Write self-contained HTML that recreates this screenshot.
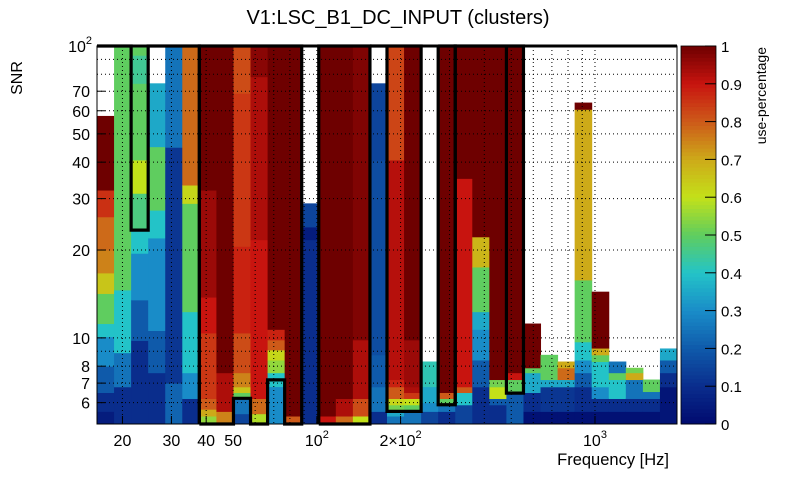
<!DOCTYPE html>
<html><head><meta charset="utf-8"><style>
body{margin:0;background:#fff;font-family:"Liberation Sans",sans-serif}
svg text{font-family:"Liberation Sans",sans-serif}
</style></head><body>
<svg id="chart" width="805" height="472" viewBox="0 0 805 472" xmlns="http://www.w3.org/2000/svg">
<text x="398" y="24" font-size="20" text-anchor="middle">V1:LSC_B1_DC_INPUT (clusters)</text>
<text transform="translate(22,78) rotate(-90)" font-size="16" text-anchor="middle">SNR</text>
<text x="669" y="465" font-size="16.5" text-anchor="end">Frequency [Hz]</text>
<text transform="translate(766,47) rotate(-90)" font-size="14" text-anchor="end">use-percentage</text>
<g id="cells"></g>
<g id="grid"></g>
<g id="outlines"></g>
<g id="axes"></g>
<g id="cbar"></g>
</svg>
<script>
// Each column: segments from bottom up, [upper SNR, use-percentage]; above last = empty
const c0=[[5.6,0.05],[6.5,0.1],[8,0.2],[10.1,0.3],[11.2,0.4],[14.2,0.5],[16.7,0.65],[20,0.75],[26,0.78],[32.1,0.86],[57.6,1]];
const c1=[[6.8,0.1],[8.9,0.25],[14.6,0.4],[100,0.5]];
const c2=[[9.8,0.1],[13.5,0.2],[19.5,0.3],[23.4,0.4],[31.3,0.47],[40.7,0.6],[74.5,0.5],[93,0.45],[100,0.5]];
const c3=[[7.6,0.1],[10.6,0.2],[22,0.3],[27.4,0.4],[45.2,0.5],[74.5,0.35]];
const c4=[[7,0.22],[45,0.12],[100,0.25]];
const c5=[[6.2,0.1],[7.6,0.3],[12.3,0.4],[28.9,0.5],[33.4,0.62],[100,0.78]];
const c6=[[5.4,0.55],[5.7,0.7],[6.2,0.8],[10.4,0.85],[13.8,0.9],[32.1,0.95],[100,1]];
const c7=[[5.6,0.75],[7.6,0.93],[100,1]];
const c8=[[5.5,0.15],[6.2,0.25],[6.5,0.5],[6.8,0.65],[7.6,0.75],[10.4,0.82],[20.6,0.88],[68.9,0.85],[100,0.82]];
const c9=[[5.5,0.58],[6.2,0.78],[21.7,0.9],[78.5,0.93],[100,0.97]];
const c10=[[6.81,0.3],[7.6,0.4],[8.4,0.55],[9.1,0.62],[9.85,0.8],[10.7,0.88],[100,1]];
const c11=[[5.4,0.8],[100,1]];
const c12=[[21.7,0.1],[24,0.05],[28.9,0.15]];
const c13=[[5.4,0.9],[100,1]];
const c14=[[5.4,0.78],[6.2,0.93],[100,1]];
const c15=[[5.4,0.6],[6.2,0.82],[9.85,0.93],[100,0.98]];
const c16=[[5.6,0.1],[6.8,0.25],[8.75,0.2],[40.7,0.17],[74.5,0.15]];
const c17=[[5.4,0.25],[5.6,0.35],[5.9,0.52],[6.2,0.62],[6.8,0.8],[7.2,0.88],[40.7,0.92],[100,0.83]];
const c18=[[5.6,0.25],[5.9,0.5],[6.2,0.6],[6.5,0.85],[6.8,0.93],[9.85,0.95],[100,1]];
const c19=[[5.6,0.15],[6,0.3],[6.81,0.35],[8.3,0.42]];
const c20=[[5.6,0.1],[5.9,0.25],[6.2,0.5],[6.5,0.8],[100,1]];
const c21=[[5.9,0.15],[6.5,0.4],[6.8,0.8],[35.2,0.9],[100,1]];
const c22=[[6.8,0.1],[8.4,0.2],[10.7,0.3],[12.3,0.35],[17.5,0.5],[22.2,0.68],[100,1]];
const c23=[[5.9,0.1],[6.2,0.2],[6.8,0.6],[7.2,0.52],[100,1]];
const c24=[[6.5,0.2],[7.2,0.5],[7.6,0.9],[100,1]];
const c25=[[5.6,0.02],[6.5,0.1],[7.6,0.35],[7.9,0.5],[11.2,1]];
const c26=[[5.6,0.02],[6.8,0.12],[7.2,0.35],[7.9,0.5],[8.75,0.5]];
const c27=[[5.6,0.02],[6.8,0.12],[7.2,0.35],[7.9,0.78],[8.3,0.7]];
const c28=[[5.6,0.02],[6.8,0.1],[7.6,0.2],[8.4,0.3],[9.7,0.4],[15.8,0.5],[60.7,0.7],[64,1]];
const c29=[[5.6,0.02],[6.2,0.1],[6.8,0.3],[8.3,0.4],[8.75,0.5],[9.23,0.7],[14.4,1]];
const c30=[[5.6,0.02],[6.2,0.1],[7.2,0.4],[7.6,0.5],[8.3,0.25]];
const c31=[[5.6,0.02],[6.2,0.1],[7.2,0.25],[7.6,0.7],[7.9,0.52]];
const c32=[[5.6,0.02],[6.2,0.1],[6.55,0.25],[7.2,0.5]];
const c33=[[6.8,0.03],[7.6,0.1],[8.4,0.2],[9.2,0.35]];
const columns=[c0,c1,c2,c3,c4,c5,c6,c7,c8,c9,c10,c11,c12,c13,c14,c15,c16,c17,c18,c19,c20,c21,c22,c23,c24,c25,c26,c27,c28,c29,c30,c31,c32,c33];
// cluster outlines: [column-edge index, SNR] vertices
const outlineA=[[0,100],[2,100],[2,23.4],[3,23.4],[3,100],[6,100],[6,5.07]];
const outlineB=[[6,5.07],[6,100],[12,100],[12,5.07],[11,5.07],[11,7.18],[10,7.18],[10,5.07],[9,5.07],[9,6.21],[8,6.21],[8,5.07],[6,5.07]];
const outlineC=[[13,5.07],[13,100],[16,100],[16,5.07],[13,5.07]];
const outlineD=[[16,100],[17,100],[17,5.6],[19,5.6],[19,100],[17,100]];
const outlineE=[[20,100],[20,5.9],[21,5.9],[21,100],[20,100]];
const outlineF=[[21,5.9],[21,100],[24,100],[24,6.47],[25,6.47],[25,100],[24,100]];
const outlines=[outlineA,outlineB,outlineC,outlineD,outlineE,outlineF];
const yTickVals=[100,70,60,50,40,30,20,10,8,7,6];
const yTickLabels=["10^2","70","60","50","40","30","20","10","8","7","6"];
const xTickVals=[20,30,40,50,100,200,1000];
const xTickLabels=["20","30","40","50","10^2","2×10^2","10^3"];
const cbTicks=[0,0.1,0.2,0.3,0.4,0.5,0.6,0.7,0.8,0.9,1];

const X0=97,X1=677,Y0=46,Y1=424,FMIN=16.2,FMAX=1972,SMIN=5.07,SMAX=100,NCOL=34;
const NS="http://www.w3.org/2000/svg";
const xF=f=>X0+(Math.log10(f)-Math.log10(FMIN))/(Math.log10(FMAX)-Math.log10(FMIN))*(X1-X0);
const yS=s=>Y1-(Math.log10(s)-Math.log10(SMIN))/(Math.log10(SMAX)-Math.log10(SMIN))*(Y1-Y0);
const xC=i=>X0+i*(X1-X0)/NCOL;
const stops=[[0,[0,10,110]],[0.1,[10,45,140]],[0.2,[15,90,170]],[0.3,[25,140,200]],[0.4,[35,195,200]],[0.5,[95,205,95]],[0.6,[195,225,25]],[0.7,[205,170,25]],[0.8,[205,90,25]],[0.9,[200,20,15]],[1,[110,0,0]]];
function col(v){v=Math.max(0,Math.min(1,v));for(let i=1;i<stops.length;i++){if(v<=stops[i][0]){const a=stops[i-1],b=stops[i],t=(v-a[0])/(b[0]-a[0]);return 'rgb('+a[1].map((c,k)=>Math.round(c+(b[1][k]-c)*t)).join(',')+')';}}return 'rgb(110,0,0)';}
function mk(tag,attrs,parent){const e=document.createElementNS(NS,tag);for(const k in attrs)e.setAttribute(k,attrs[k]);parent.appendChild(e);return e;}
const cells=document.getElementById('cells');
columns.forEach((segs,i)=>{let lo=SMIN;segs.forEach(([hi,v])=>{if(hi<=lo)return;const r=mk('rect',{x:xC(i),y:yS(hi),width:xC(i+1)-xC(i)+0.5,height:yS(lo)-yS(hi)+0.5,fill:col(v)},cells);


lo=hi;});});
const grid=document.getElementById('grid');
const gx=[];for(const d of [10,100,1000])for(let m=1;m<10;m++){const f=d*m;if(f>FMIN&&f<FMAX)gx.push(f);}
gx.forEach(f=>{const l=mk('line',{x1:xF(f),x2:xF(f),y1:Y0,y2:Y1,stroke:'#000','stroke-width':1,'stroke-dasharray':'1,3'},grid);

});
const gy=[6,7,8,9,10,20,30,40,50,60,70,80,90];
gy.forEach(s=>{const l=mk('line',{x1:X0,x2:X1,y1:yS(s),y2:yS(s),stroke:'#000','stroke-width':1,'stroke-dasharray':'1,3'},grid);

});
const og=document.getElementById('outlines');
outlines.forEach(pts=>{const p=mk('polyline',{points:pts.map(([c,s])=>xC(c)+','+yS(s)).join(' '),fill:'none',stroke:'#000','stroke-width':3.2,'stroke-linejoin':'miter'},og);

});
const ax=document.getElementById('axes');
mk('rect',{x:X0,y:Y0,width:X1-X0,height:Y1-Y0,fill:'none',stroke:'#000','stroke-width':1},ax);
mk('line',{x1:X0,x2:X1,y1:Y0,y2:Y0,stroke:'#000','stroke-width':3},ax);
function lbl(parent,x,y,txt,anchor,name){const t=mk('text',{x:x,y:y,'font-size':16,'text-anchor':anchor},parent);


const m=txt.split('^');t.textContent=m[0];if(m[1]){const s=mk('tspan',{'font-size':11,dy:-8},t);s.textContent=m[1];}}
yTickVals.forEach((s,i)=>{mk('line',{x1:X0,x2:X0+8,y1:yS(s),y2:yS(s),stroke:'#000'},ax);lbl(ax,yTickLabels[i].includes('^')?92:90,yS(s)+6,yTickLabels[i],'end','y-tick-label');});
xTickVals.forEach((f,i)=>{mk('line',{x1:xF(f),x2:xF(f),y1:Y1,y2:Y1-8,stroke:'#000'},ax);lbl(ax,xF(f),Y1+22,xTickLabels[i],'middle','x-tick-label');});
const cb=document.getElementById('cbar');const CX=681,CW=35;
for(let k=0;k<100;k++){const v=(k+0.5)/100;mk('rect',{x:CX,y:Y1-(k+1)*(Y1-Y0)/100,width:CW,height:(Y1-Y0)/100+0.5,fill:col(v)},cb);}
mk('rect',{x:CX,y:Y0,width:CW,height:Y1-Y0,fill:'none',stroke:'#000','stroke-width':0.8},cb);
cbTicks.forEach(v=>{const y=Y1-v*(Y1-Y0);mk('line',{x1:CX+CW-11,x2:CX+CW,y1:y,y2:y,stroke:'#000'},cb);const t=mk('text',{x:CX+CW+5,y:y+6,'font-size':15},cb);


t.textContent=String(v);});
</script>
</body></html>
